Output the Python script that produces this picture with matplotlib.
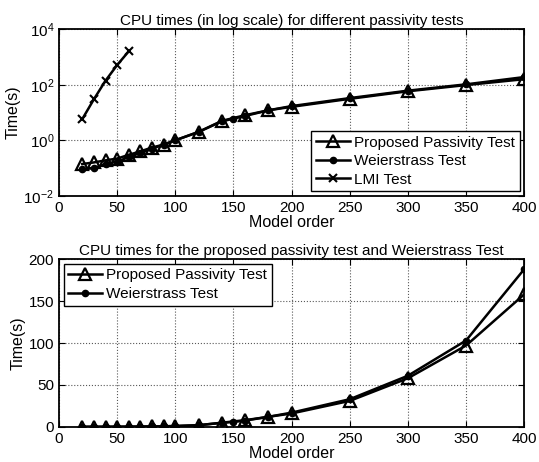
import numpy as np
import matplotlib
matplotlib.use('Agg')
import matplotlib.pyplot as plt

plt.rcParams['font.family'] = ['Liberation Sans', 'DejaVu Sans']
plt.rcParams['font.size'] = 10

# Model orders
order_prop = [20, 30, 40, 50, 60, 70, 80, 90, 100, 120, 140, 160, 180, 200, 250, 300, 350, 400]
order_weier = [20, 30, 40, 50, 60, 70, 80, 90, 100, 120, 140, 150, 160, 180, 200, 250, 300, 350, 400]
order_lmi = [20, 30, 40, 50, 60]

# CPU times (s)
time_prop = [0.14, 0.16, 0.19, 0.22, 0.3, 0.4, 0.55, 0.7, 1.0, 2.0, 5.0, 8.0, 12, 16, 31, 58, 97, 158]
time_weier = [0.09, 0.1, 0.14, 0.17, 0.25, 0.35, 0.5, 0.7, 1.0, 2.0, 4.8, 6.0, 7.5, 12, 17, 33, 61, 103, 188]
time_lmi = [5.8, 30, 140, 510, 1600]

fig = plt.figure(figsize=(5.39, 4.62), dpi=100)
ax1 = fig.add_axes([0.1095, 0.576, 0.863, 0.361])
ax2 = fig.add_axes([0.1095, 0.076, 0.863, 0.363])

lw = 1.8
tri = dict(marker='^', mfc='none', mec='k', mew=1.6, ms=8)
dot = dict(marker='o', mfc='k', mec='k', ms=4.5)
leg = dict(frameon=True, fancybox=False, edgecolor='k', framealpha=1, handlelength=2.2,
           borderaxespad=0.3, labelspacing=0.3, handletextpad=0.3, borderpad=0.3, fontsize=11)

# top: log scale
ax1.semilogy(order_prop, time_prop, 'k-', lw=lw, label='Proposed Passivity Test', **tri)
ax1.semilogy(order_weier, time_weier, 'k-', lw=lw, label='Weierstrass Test', **dot)
ax1.semilogy(order_lmi, time_lmi, 'k-', marker='x', mew=1.5, ms=6, lw=lw, label='LMI Test')
ax1.set_xlim(0, 400)
ax1.set_ylim(1e-2, 1e4)
ax1.set_yticks([1e-2, 1e0, 1e2, 1e4])
ax1.minorticks_off()
ax1.set_xticks(np.arange(0, 401, 50))
ax1.set_xlabel('Model order', labelpad=0)
ax1.set_ylabel('Time(s)', labelpad=2)
ax1.set_title('CPU times (in log scale) for different passivity tests', fontsize=11, pad=3)
ax1.legend(loc='lower right', **leg)

# bottom: linear
ax2.plot(order_prop, time_prop, 'k-', lw=lw, label='Proposed Passivity Test', **tri)
ax2.plot(order_weier, time_weier, 'k-', lw=lw, label='Weierstrass Test', **dot)
ax2.set_xlim(0, 400)
ax2.set_ylim(0, 200)
ax2.set_xticks(np.arange(0, 401, 50))
ax2.set_yticks(np.arange(0, 201, 50))
ax2.set_xlabel('Model order', labelpad=0)
ax2.set_ylabel('Time(s)', labelpad=2)
ax2.set_title('CPU times for the proposed passivity test and Weierstrass Test', fontsize=11, pad=3)
ax2.legend(loc='upper left', **leg)

for ax in (ax1, ax2):
    ax.grid(True, linestyle=':', color='0.35', lw=0.8)
    ax.tick_params(direction='in', length=4, labelsize=11, top=True, right=True)
    for s in ax.spines.values():
        s.set_linewidth(1.3)
    ax.xaxis.label.set_size(11.5)
    ax.yaxis.label.set_size(11.5)

fig.savefig('out.png', dpi=100)
